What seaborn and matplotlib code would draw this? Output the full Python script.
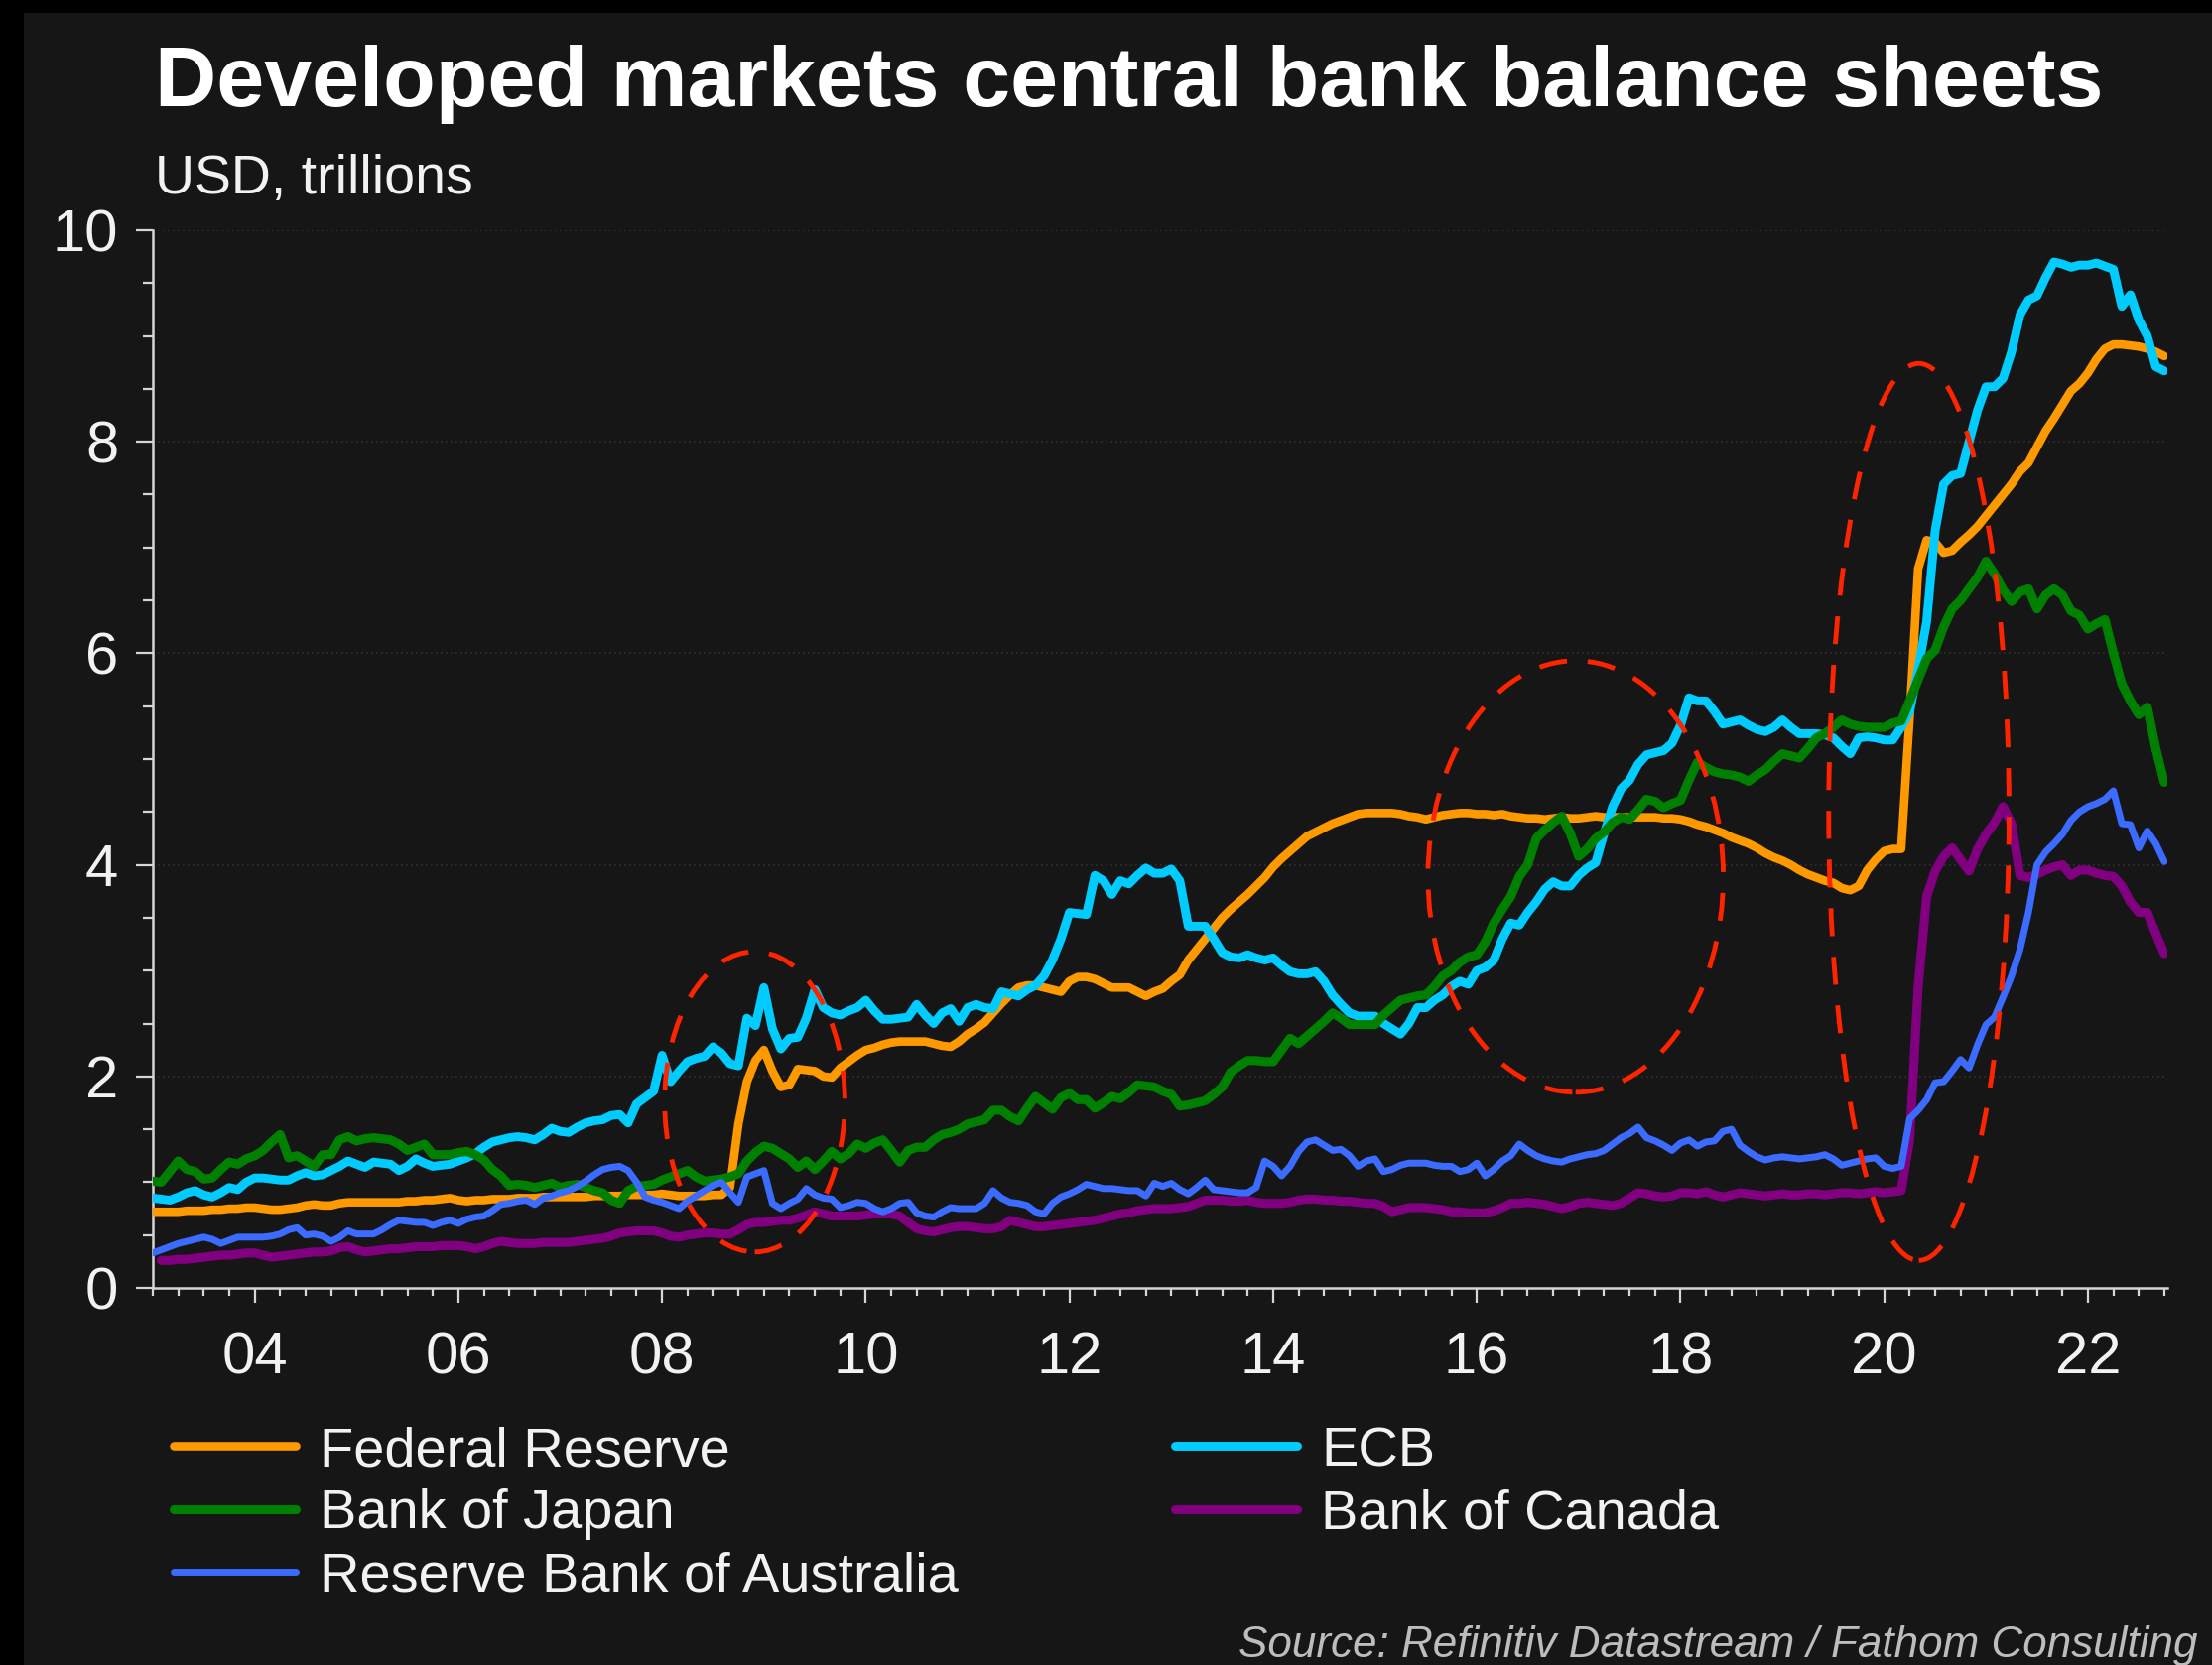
import numpy as np
import pandas as pd
import matplotlib
matplotlib.use("Agg")
import matplotlib.pyplot as plt
from matplotlib.patches import Ellipse, Rectangle
from matplotlib.ticker import FixedLocator, MultipleLocator
import seaborn as sns

nan = np.nan

# Monthly central bank balance sheet sizes, USD trillions, Jan 2003 - Oct 2022
federal_reserve = [
    0.72, 0.72, 0.72, 0.72, 0.73, 0.73, 0.73, 0.74, 0.74, 0.75, 0.75, 0.76,
    0.76, 0.75, 0.74, 0.74, 0.75, 0.76, 0.78, 0.79, 0.78, 0.78, 0.80, 0.81,
    0.81, 0.81, 0.81, 0.81, 0.81, 0.81, 0.82, 0.82, 0.83, 0.83, 0.84, 0.85,
    0.83, 0.82, 0.83, 0.83, 0.84, 0.84, 0.84, 0.85, 0.85, 0.85, 0.86, 0.86,
    0.86, 0.86, 0.86, 0.86, 0.87, 0.87, 0.87, 0.87, 0.88, 0.88, 0.88, 0.88,
    0.89, 0.88, 0.87, 0.87, 0.87, 0.87, 0.88, 0.88, 0.95, 1.55, 1.95, 2.15,
    2.25, 2.05, 1.90, 1.92, 2.07, 2.06, 2.05, 2.00, 1.99, 2.08, 2.14, 2.20,
    2.25, 2.27, 2.30, 2.32, 2.33, 2.33, 2.33, 2.33, 2.31, 2.29, 2.28, 2.33,
    2.40, 2.45, 2.51, 2.60, 2.69, 2.77, 2.84, 2.86, 2.86, 2.84, 2.82, 2.80,
    2.90, 2.94, 2.94, 2.92, 2.88, 2.84, 2.84, 2.84, 2.80, 2.76, 2.80, 2.83,
    2.90, 2.96, 3.10, 3.20, 3.30, 3.40, 3.50, 3.58, 3.65, 3.72, 3.80, 3.88,
    3.98, 4.06, 4.13, 4.20, 4.27, 4.31, 4.35, 4.39, 4.42, 4.45, 4.48, 4.49,
    4.49, 4.49, 4.49, 4.48, 4.46, 4.45, 4.43, 4.45, 4.47, 4.48, 4.49, 4.49,
    4.48, 4.48, 4.47, 4.48, 4.46, 4.45, 4.44, 4.44, 4.43, 4.44, 4.45, 4.44,
    4.44, 4.45, 4.46, 4.45, 4.45, 4.45, 4.45, 4.45, 4.45, 4.45, 4.44, 4.44,
    4.43, 4.41, 4.38, 4.36, 4.33, 4.30, 4.26, 4.23, 4.20, 4.16, 4.11, 4.07,
    4.04, 4.00, 3.95, 3.91, 3.88, 3.85, 3.83, 3.78, 3.76, 3.80, 3.95, 4.05,
    4.13, 4.15, 4.15, 5.40, 6.80, 7.07, 7.05, 6.95, 6.97, 7.05, 7.12, 7.20,
    7.30, 7.40, 7.50, 7.60, 7.72, 7.80, 7.95, 8.10, 8.22, 8.35, 8.48, 8.55,
    8.65, 8.78, 8.88, 8.92, 8.92, 8.91, 8.90, 8.88, 8.85, 8.81,
]

ecb = [
    0.85, 0.84, 0.83, 0.86, 0.90, 0.92, 0.88, 0.86, 0.90, 0.95, 0.93, 1.00,
    1.04, 1.04, 1.03, 1.02, 1.02, 1.06, 1.09, 1.06, 1.07, 1.11, 1.15, 1.20,
    1.17, 1.14, 1.19, 1.18, 1.17, 1.11, 1.15, 1.22, 1.18, 1.15, 1.16, 1.17,
    1.20, 1.23, 1.27, 1.33, 1.38, 1.40, 1.42, 1.43, 1.42, 1.40, 1.45, 1.51,
    1.48, 1.47, 1.52, 1.56, 1.58, 1.59, 1.63, 1.64, 1.56, 1.74, 1.80, 1.86,
    2.20, 1.95, 2.05, 2.14, 2.17, 2.19, 2.28, 2.22, 2.12, 2.10, 2.55, 2.48,
    2.84, 2.45, 2.26, 2.36, 2.37, 2.55, 2.82, 2.65, 2.60, 2.58, 2.62, 2.65,
    2.72, 2.62, 2.54, 2.54, 2.55, 2.56, 2.68, 2.58, 2.50, 2.60, 2.64, 2.52,
    2.65, 2.68, 2.65, 2.64, 2.80, 2.78, 2.76, 2.82, 2.86, 2.95, 3.10, 3.30,
    3.55, 3.54, 3.53, 3.90, 3.85, 3.72, 3.85, 3.82, 3.90, 3.97, 3.92, 3.92,
    3.96, 3.85, 3.42, 3.42, 3.42, 3.30, 3.17, 3.13, 3.12, 3.15, 3.12, 3.10,
    3.12, 3.05, 2.99, 2.97, 2.97, 2.99, 2.90, 2.77, 2.68, 2.60, 2.57, 2.57,
    2.57, 2.50, 2.45, 2.40, 2.50, 2.65, 2.65, 2.72, 2.77, 2.85, 2.90, 2.87,
    3.00, 3.03, 3.10, 3.30, 3.45, 3.43, 3.55, 3.65, 3.77, 3.84, 3.80, 3.80,
    3.90, 3.97, 4.02, 4.30, 4.55, 4.72, 4.80, 4.95, 5.04, 5.06, 5.08, 5.15,
    5.32, 5.58, 5.55, 5.55, 5.45, 5.33, 5.35, 5.37, 5.32, 5.28, 5.26, 5.30,
    5.37, 5.30, 5.24, 5.24, 5.24, 5.23, 5.20, 5.12, 5.05, 5.20, 5.21, 5.20,
    5.18, 5.18, 5.30, 5.45, 5.85, 6.30, 7.16, 7.60, 7.68, 7.70, 8.00, 8.30,
    8.52, 8.52, 8.60, 8.85, 9.20, 9.34, 9.38, 9.55, 9.70, 9.68, 9.65, 9.67,
    9.67, 9.69, 9.66, 9.63, 9.28, 9.39, 9.15, 9.00, 8.71, 8.67,
]

bank_of_japan = [
    1.01, 1.00, 1.10, 1.20, 1.12, 1.10, 1.03, 1.04, 1.12, 1.19, 1.17, 1.22,
    1.25, 1.30, 1.38, 1.45, 1.23, 1.25, 1.20, 1.15, 1.26, 1.26, 1.40, 1.43,
    1.39, 1.41, 1.42, 1.41, 1.40, 1.36, 1.30, 1.33, 1.36, 1.26, 1.26, 1.26,
    1.28, 1.29, 1.26, 1.21, 1.12, 1.06, 0.97, 0.98, 0.97, 0.95, 0.97, 0.99,
    0.95, 0.97, 0.98, 0.95, 0.92, 0.90, 0.83, 0.80, 0.92, 0.96, 0.97, 0.98,
    1.02, 1.05, 1.08, 1.11, 1.05, 1.01, 1.02, 1.03, 1.05, 1.08, 1.20, 1.28,
    1.34, 1.32, 1.27, 1.22, 1.14, 1.20, 1.12, 1.20, 1.29, 1.22, 1.27, 1.36,
    1.32, 1.37, 1.40, 1.30, 1.19, 1.30, 1.33, 1.33, 1.40, 1.45, 1.47, 1.50,
    1.55, 1.57, 1.59, 1.68, 1.68, 1.62, 1.58, 1.70, 1.81, 1.75, 1.69, 1.80,
    1.84, 1.78, 1.78, 1.70, 1.75, 1.81, 1.79, 1.85, 1.92, 1.91, 1.90, 1.86,
    1.83, 1.72, 1.73, 1.75, 1.77, 1.83, 1.90, 2.04, 2.10, 2.15, 2.15, 2.14,
    2.14, 2.25, 2.36, 2.31, 2.38, 2.45, 2.52, 2.60, 2.55, 2.49, 2.49, 2.49,
    2.49, 2.58, 2.65, 2.72, 2.74, 2.76, 2.77, 2.85, 2.95, 3.00, 3.08, 3.13,
    3.15, 3.27, 3.45, 3.58, 3.70, 3.89, 4.00, 4.25, 4.33, 4.40, 4.46, 4.30,
    4.08, 4.15, 4.25, 4.31, 4.40, 4.45, 4.43, 4.52, 4.62, 4.60, 4.54, 4.58,
    4.61, 4.80, 4.97, 4.92, 4.88, 4.86, 4.85, 4.83, 4.79, 4.85, 4.90, 4.98,
    5.05, 5.03, 5.01, 5.10, 5.20, 5.24, 5.30, 5.37, 5.33, 5.31, 5.30, 5.30,
    5.30, 5.34, 5.36, 5.55, 5.75, 5.95, 6.03, 6.25, 6.42, 6.50, 6.61, 6.72,
    6.87, 6.75, 6.60, 6.49, 6.58, 6.61, 6.42, 6.55, 6.61, 6.55, 6.40, 6.36,
    6.23, 6.28, 6.32, 6.00, 5.71, 5.55, 5.42, 5.49, 5.10, 4.78,
]

reserve_bank_of_australia = [
    0.33, 0.36, 0.39, 0.42, 0.44, 0.46, 0.48, 0.46, 0.42, 0.45, 0.48, 0.48,
    0.48, 0.48, 0.49, 0.51, 0.55, 0.57, 0.50, 0.51, 0.49, 0.44, 0.48, 0.54,
    0.51, 0.51, 0.51, 0.55, 0.60, 0.64, 0.63, 0.62, 0.62, 0.59, 0.62, 0.64,
    0.61, 0.65, 0.67, 0.68, 0.73, 0.79, 0.80, 0.82, 0.83, 0.79, 0.85, 0.87,
    0.90, 0.92, 0.96, 1.01, 1.07, 1.12, 1.14, 1.15, 1.11, 1.00, 0.86, 0.83,
    0.81, 0.78, 0.75, 0.82, 0.87, 0.92, 0.97, 1.00, 0.90, 0.81, 1.05, 1.08,
    1.11, 0.80, 0.75, 0.80, 0.84, 0.94, 0.88, 0.85, 0.84, 0.76, 0.78, 0.81,
    0.80, 0.75, 0.72, 0.75, 0.80, 0.81, 0.71, 0.68, 0.67, 0.72, 0.76, 0.75,
    0.75, 0.75, 0.80, 0.92, 0.85, 0.81, 0.80, 0.78, 0.72, 0.70, 0.80, 0.86,
    0.89, 0.93, 0.98, 0.96, 0.94, 0.94, 0.93, 0.92, 0.92, 0.87, 0.99, 0.96,
    0.99, 0.93, 0.89, 0.95, 1.02, 0.93, 0.92, 0.91, 0.90, 0.90, 0.95, 1.20,
    1.15, 1.06, 1.15, 1.29, 1.38, 1.40, 1.35, 1.30, 1.31, 1.25, 1.15, 1.20,
    1.22, 1.10, 1.12, 1.16, 1.18, 1.18, 1.18, 1.16, 1.15, 1.15, 1.10, 1.12,
    1.18, 1.06, 1.12, 1.20, 1.25, 1.36, 1.30, 1.25, 1.22, 1.20, 1.19, 1.22,
    1.24, 1.26, 1.27, 1.30, 1.36, 1.42, 1.46, 1.52, 1.42, 1.39, 1.35, 1.30,
    1.37, 1.40, 1.34, 1.38, 1.39, 1.48, 1.50, 1.35, 1.29, 1.24, 1.21, 1.23,
    1.24, 1.23, 1.22, 1.23, 1.24, 1.26, 1.22, 1.16, 1.18, 1.20, 1.22, 1.23,
    1.15, 1.13, 1.15, 1.60, 1.68, 1.78, 1.94, 1.95, 2.05, 2.16, 2.08, 2.30,
    2.49, 2.56, 2.75, 2.95, 3.20, 3.55, 4.00, 4.12, 4.20, 4.29, 4.42, 4.50,
    4.55, 4.58, 4.62, 4.70, 4.39, 4.38, 4.16, 4.32, 4.20, 4.03,
]

bank_of_canada = [
    nan, 0.26, 0.26, 0.27, 0.27, 0.28, 0.29, 0.30, 0.31, 0.31, 0.32, 0.33,
    0.33, 0.31, 0.29, 0.30, 0.31, 0.32, 0.33, 0.34, 0.34, 0.35, 0.38, 0.39,
    0.36, 0.34, 0.35, 0.36, 0.37, 0.37, 0.38, 0.39, 0.39, 0.39, 0.40, 0.40,
    0.40, 0.39, 0.37, 0.39, 0.42, 0.44, 0.43, 0.42, 0.42, 0.42, 0.43, 0.43,
    0.43, 0.43, 0.44, 0.45, 0.46, 0.47, 0.49, 0.52, 0.53, 0.54, 0.54, 0.54,
    0.52, 0.49, 0.48, 0.50, 0.51, 0.52, 0.52, 0.51, 0.51, 0.55, 0.60, 0.62,
    0.62, 0.63, 0.64, 0.64, 0.66, 0.69, 0.72, 0.70, 0.68, 0.68, 0.68, 0.68,
    0.69, 0.70, 0.70, 0.70, 0.68, 0.62, 0.56, 0.54, 0.53, 0.55, 0.57, 0.58,
    0.58, 0.57, 0.56, 0.56, 0.58, 0.64, 0.62, 0.60, 0.58, 0.58, 0.59, 0.60,
    0.61, 0.62, 0.63, 0.64, 0.66, 0.68, 0.70, 0.71, 0.73, 0.74, 0.75, 0.75,
    0.75, 0.76, 0.77, 0.80, 0.83, 0.83, 0.83, 0.82, 0.82, 0.83, 0.81, 0.80,
    0.80, 0.80, 0.81, 0.83, 0.84, 0.84, 0.83, 0.83, 0.82, 0.82, 0.81, 0.80,
    0.80, 0.77, 0.72, 0.74, 0.76, 0.76, 0.76, 0.75, 0.74, 0.72, 0.72, 0.71,
    0.71, 0.71, 0.73, 0.76, 0.80, 0.80, 0.81, 0.80, 0.79, 0.77, 0.75, 0.77,
    0.80, 0.81, 0.80, 0.79, 0.78, 0.80, 0.85, 0.90, 0.89, 0.87, 0.86, 0.87,
    0.90, 0.90, 0.89, 0.91, 0.88, 0.86, 0.88, 0.90, 0.89, 0.88, 0.87, 0.88,
    0.89, 0.88, 0.88, 0.89, 0.89, 0.88, 0.89, 0.90, 0.90, 0.89, 0.90, 0.91,
    0.90, 0.91, 0.92, 1.40, 2.85, 3.70, 3.94, 4.08, 4.16, 4.05, 3.94, 4.15,
    4.29, 4.40, 4.55, 4.39, 3.90, 3.88, 3.91, 3.95, 3.98, 4.00, 3.90, 3.95,
    3.95, 3.92, 3.90, 3.89, 3.80, 3.65, 3.55, 3.55, 3.35, 3.16,
]

first_year = 2003
x_tick_years = [2004, 2006, 2008, 2010, 2012, 2014, 2016, 2018, 2020, 2022]
x_tick_labels = ["04", "06", "08", "10", "12", "14", "16", "18", "20", "22"]
y_ticks = [0, 2, 4, 6, 8, 10]

title = "Developed markets central bank balance sheets"
subtitle = "USD, trillions"
source = "Source: Refinitiv Datastream / Fathom Consulting"

# ---------------------------------------------------------------- data frame
series = {
    "Federal Reserve": federal_reserve,
    "ECB": ecb,
    "Bank of Japan": bank_of_japan,
    "Bank of Canada": bank_of_canada,
    "Reserve Bank of Australia": reserve_bank_of_australia,
}
n_months = len(federal_reserve)
wide = pd.DataFrame(series)
wide.insert(0, "year", first_year + np.arange(n_months) / 12)
long = wide.melt(id_vars="year", var_name="bank", value_name="usd_tn").dropna()

# ---------------------------------------------------------------- styling
BG = "#161616"
FG = "#f2f2f2"
AXIS = "#d6d6d6"
line_styles = {
    "Federal Reserve": dict(color="#FF9900", lw=6.2),
    "ECB": dict(color="#00CCFF", lw=6.4),
    "Bank of Japan": dict(color="#008000", lw=6.6),
    "Bank of Canada": dict(color="#800080", lw=6.6),
    "Reserve Bank of Australia": dict(color="#3B6BFF", lw=5.0),
}

sns.set_theme(style="ticks", rc={
    "figure.facecolor": BG,
    "axes.facecolor": BG,
    "savefig.facecolor": BG,
    "axes.edgecolor": AXIS,
    "text.color": FG,
    "xtick.color": AXIS,
    "ytick.color": AXIS,
})
plt.rcParams["font.family"] = ["Liberation Sans", "DejaVu Sans"]

W, H = 2229, 1678
fig = plt.figure(figsize=(W / 100, H / 100), dpi=100, facecolor=BG)

# thin black frame on the left and top edges
fig.patches.append(Rectangle((0, 0), 24 / W, 1, transform=fig.transFigure,
                             facecolor="black", edgecolor="none", zorder=0))
fig.patches.append(Rectangle((0, 1 - 13 / H), 1, 13 / H, transform=fig.transFigure,
                             facecolor="black", edgecolor="none", zorder=0))

ax = fig.add_axes([154 / W, 1 - 1298 / H, (2184 - 154) / W, (1298 - 232) / H])
ax.set_facecolor(BG)

lines = {}
for name in series:
    sub = long[long["bank"] == name]
    sns.lineplot(data=sub, x="year", y="usd_tn", ax=ax, estimator=None,
                 errorbar=None, legend=False, label=name,
                 color=line_styles[name]["color"],
                 linewidth=line_styles[name]["lw"], zorder=3)
    lines[name] = ax.lines[-1]
    lines[name].set_solid_joinstyle("round")
if ax.get_legend() is not None:
    ax.get_legend().remove()

# dashed red highlights around the three balance-sheet expansions
highlights = [
    (2008.91, 1.76, 1.77, 2.84),
    (2016.97, 3.89, 2.90, 4.08),
    (2020.34, 4.50, 1.77, 8.48),
]
for cx, cy, w, h in highlights:
    ax.add_patch(Ellipse((cx, cy), w, h, fill=False, edgecolor="#FF2400",
                         lw=3.5, linestyle=(0, (5.8, 4.3)), zorder=6,
                         clip_on=False))

# axes, ticks and grid
ax.set_xlim(first_year, 2022.78)
ax.set_ylim(0, 10)
ax.set_xlabel("")
ax.set_ylabel("")
ax.xaxis.set_major_locator(FixedLocator(x_tick_years))
ax.set_xticklabels(x_tick_labels)
ax.xaxis.set_minor_locator(MultipleLocator(0.25))
ax.yaxis.set_major_locator(FixedLocator(y_ticks))
ax.yaxis.set_minor_locator(MultipleLocator(0.5))
ax.tick_params(which="both", bottom=True, left=True, top=False, right=False,
               direction="out", color=AXIS, width=1.6)
ax.tick_params(axis="both", which="major", labelsize=43, labelcolor=FG)
ax.tick_params(axis="x", which="major", length=11, pad=20)
ax.tick_params(axis="x", which="minor", length=6)
ax.tick_params(axis="y", which="major", length=12, pad=13)
ax.tick_params(axis="y", which="minor", length=7)
ax.yaxis.grid(True, which="major", color="#303030", linestyle=(0, (1, 2)), lw=1.2)
ax.xaxis.grid(False)
ax.set_axisbelow(True)
for side in ("top", "right"):
    ax.spines[side].set_visible(False)
for side in ("left", "bottom"):
    ax.spines[side].set_color(AXIS)
    ax.spines[side].set_linewidth(1.8)

# titles and source
fig.text(156 / W, 1 - 107 / H, title, fontsize=62, fontweight="bold",
         color="white", ha="left", va="baseline")
fig.text(156 / W, 1 - 195 / H, subtitle, fontsize=40, color=FG,
         ha="left", va="baseline")
fig.text(2215 / W, 1 - 1670 / H, source, fontsize=31.7, style="italic",
         color="#bdbdbd", ha="right", va="baseline")

# two-column legend below the chart
legend_kw = dict(loc="upper left", frameon=False, borderpad=0, borderaxespad=0,
                 handlelength=2.2, handletextpad=0.43, labelspacing=0.2,
                 fontsize=40.3, labelcolor=FG)
left_col = ["Federal Reserve", "Bank of Japan", "Reserve Bank of Australia"]
right_col = ["ECB", "Bank of Canada"]
fig.legend([lines[n] for n in left_col], left_col,
           bbox_to_anchor=(175 / W, 1 - 1437 / H), **legend_kw)
fig.legend([lines[n] for n in right_col], right_col,
           bbox_to_anchor=(1184 / W, 1 - 1437 / H), **legend_kw)

fig.savefig("out.png", dpi=100, facecolor=BG)
